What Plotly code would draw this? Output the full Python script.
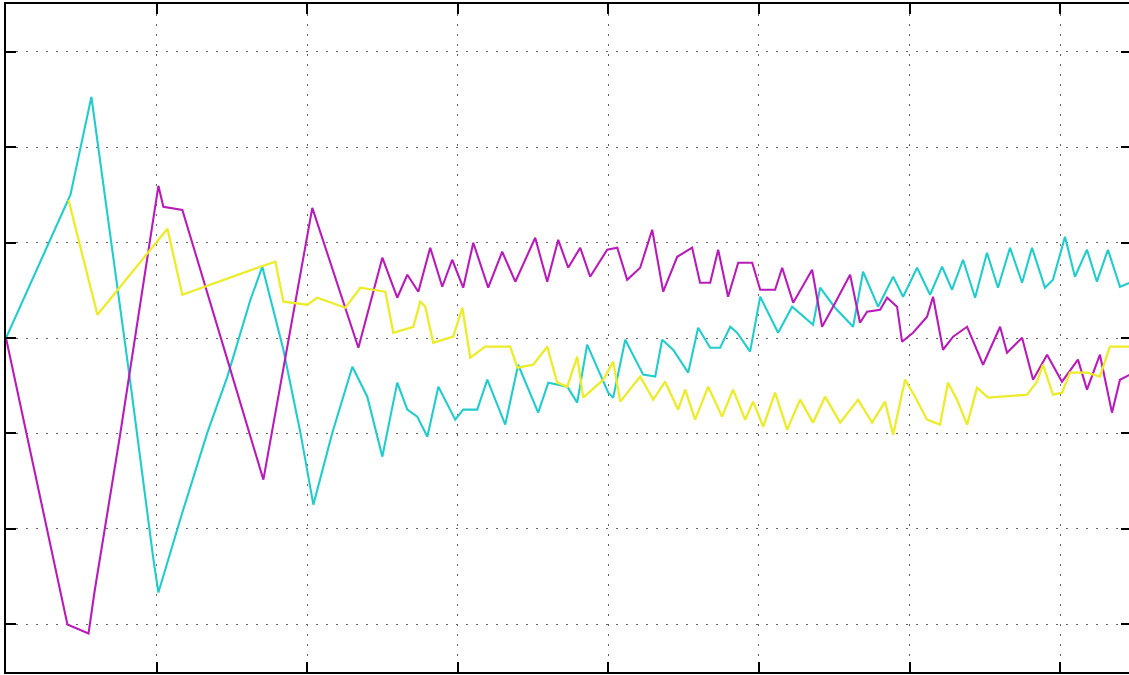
import plotly.graph_objects as go

# Time axis: one grid division = 1 unit; amplitude: one grid division = 1 unit
mag_t = [0.0, 0.408, 0.548, 0.587, 0.760, 0.893, 1.012, 1.045, 1.171, 1.470, 1.709, 2.034, 2.340,
         2.499, 2.598, 2.665, 2.738, 2.817, 2.897, 2.963, 3.036, 3.103, 3.202, 3.295, 3.382, 3.514,
         3.594, 3.667, 3.733, 3.813, 3.879, 3.992, 4.059, 4.125, 4.211, 4.291, 4.364, 4.457, 4.556,
         4.609, 4.676, 4.729, 4.795, 4.862, 4.955, 5.008, 5.107, 5.154, 5.227, 5.353, 5.419, 5.492,
         5.605, 5.671, 5.718, 5.804, 5.851, 5.917, 5.950, 6.023, 6.116, 6.156, 6.222, 6.289, 6.382,
         6.488, 6.601, 6.647, 6.747, 6.820, 6.913, 7.012, 7.118, 7.178, 7.264, 7.344, 7.397, 7.463]
mag_y = [0.0, -3.002, -3.096, -2.667, -0.992, 0.401, 1.595, 1.375, 1.343, -0.227, -1.484, 1.364, -0.102,
         0.841, 0.422, 0.663, 0.485, 0.946, 0.537, 0.820, 0.527, 0.998, 0.527, 0.904, 0.590, 1.050,
         0.590, 1.029, 0.736, 0.946, 0.642, 0.925, 0.946, 0.610, 0.736, 1.134, 0.485, 0.851, 0.946,
         0.579, 0.579, 0.925, 0.432, 0.788, 0.788, 0.506, 0.506, 0.736, 0.370, 0.715, 0.118, 0.328,
         0.663, 0.160, 0.275, 0.296, 0.422, 0.328, -0.039, 0.055, 0.223, 0.432, -0.123, 0.014, 0.118,
         -0.280, 0.118, -0.154, 0.003, -0.437, -0.175, -0.458, -0.227, -0.541, -0.175, -0.782, -0.437, -0.384]

cyan_t = [0.0, 0.428, 0.567, 0.806, 0.826, 0.979, 1.012, 1.171, 1.337, 1.470, 1.623, 1.702, 1.842,
          1.955, 2.041, 2.167, 2.300, 2.399, 2.499, 2.598, 2.665, 2.731, 2.798, 2.871, 2.983, 3.036,
          3.129, 3.196, 3.315, 3.401, 3.534, 3.601, 3.727, 3.793, 3.859, 3.999, 4.032, 4.112, 4.231,
          4.311, 4.357, 4.430, 4.530, 4.596, 4.676, 4.742, 4.809, 4.855, 4.941, 5.008, 5.127, 5.220,
          5.359, 5.406, 5.505, 5.625, 5.691, 5.791, 5.891, 5.957, 6.050, 6.136, 6.216, 6.282, 6.355,
          6.435, 6.514, 6.587, 6.667, 6.747, 6.813, 6.899, 6.952, 7.032, 7.098, 7.178, 7.244, 7.317,
          7.397, 7.463]
cyan_y = [0.0, 1.501, 2.527, -0.227, -0.468, -2.321, -2.667, -1.829, -0.992, -0.405, 0.401, 0.747, -0.123,
          -0.992, -1.746, -0.992, -0.301, -0.615, -1.243, -0.468, -0.751, -0.824, -1.034, -0.510, -0.856, -0.751,
          -0.751, -0.437, -0.908, -0.280, -0.782, -0.468, -0.510, -0.677, -0.070, -0.573, -0.625, -0.018, -0.384,
          -0.405, -0.018, -0.123, -0.363, 0.108, -0.102, -0.102, 0.118, 0.055, -0.143, 0.432, 0.055, 0.328,
          0.139, 0.527, 0.317, 0.118, 0.694, 0.328, 0.642, 0.432, 0.736, 0.453, 0.747, 0.506, 0.820,
          0.422, 0.893, 0.527, 0.946, 0.579, 0.946, 0.527, 0.610, 1.061, 0.642, 0.925, 0.590, 0.925,
          0.537, 0.579]

yel_t = [0.415, 0.607, 1.072, 1.171, 1.669, 1.789, 1.842, 2.001, 2.067, 2.253, 2.353, 2.519, 2.572,
         2.705, 2.751, 2.784, 2.837, 2.970, 3.030, 3.083, 3.182, 3.348, 3.395, 3.501, 3.594, 3.660,
         3.727, 3.793, 3.833, 3.966, 4.032, 4.079, 4.211, 4.298, 4.377, 4.463, 4.510, 4.576, 4.663,
         4.755, 4.828, 4.908, 4.961, 5.028, 5.107, 5.187, 5.273, 5.359, 5.439, 5.539, 5.658, 5.751,
         5.837, 5.891, 5.970, 6.036, 6.116, 6.202, 6.255, 6.315, 6.382, 6.448, 6.521, 6.780, 6.846,
         6.886, 6.952, 7.012, 7.065, 7.178, 7.264, 7.330, 7.463]
yel_y = [1.448, 0.244, 1.145, 0.453, 0.736, 0.799, 0.380, 0.349, 0.422, 0.317, 0.527, 0.485, 0.055,
         0.118, 0.380, 0.328, -0.049, 0.014, 0.317, -0.206, -0.091, -0.091, -0.311, -0.280, -0.091, -0.468,
         -0.510, -0.196, -0.625, -0.437, -0.248, -0.667, -0.405, -0.646, -0.458, -0.751, -0.541, -0.856, -0.510,
         -0.824, -0.541, -0.856, -0.667, -0.929, -0.573, -0.960, -0.646, -0.887, -0.615, -0.887, -0.646, -0.887,
         -0.667, -1.013, -0.437, -0.615, -0.856, -0.908, -0.468, -0.646, -0.908, -0.520, -0.625, -0.594, -0.458,
         -0.280, -0.594, -0.573, -0.363, -0.363, -0.405, -0.091, -0.091]

X_RANGE = [0, 7.457]
Y_RANGE = [-3.5, 3.5]

fig = go.Figure()
fig.add_trace(go.Scatter(x=yel_t, y=yel_y, mode="lines", line=dict(color="#ecec2a", width=2.3),
                         showlegend=False, yaxis="y2"))
fig.add_trace(go.Scatter(x=cyan_t, y=cyan_y, mode="lines", line=dict(color="#22cccc", width=2.1),
                         showlegend=False))
fig.add_trace(go.Scatter(x=mag_t, y=mag_y, mode="lines", line=dict(color="#b81cb8", width=2.1),
                         showlegend=False))

grid_style = dict(showgrid=True, gridcolor="#666666", gridwidth=1, griddash="2px,8px")

fig.update_layout(
    width=1129, height=675,
    margin=dict(l=6, r=0, t=4, b=3),
    paper_bgcolor="white", plot_bgcolor="white",
    xaxis=dict(range=X_RANGE, dtick=1, tick0=0, zeroline=False, showline=True, linecolor="black",
               linewidth=2, mirror="ticks", ticks="inside", ticklen=10, tickwidth=2, tickcolor="black",
               showticklabels=False, **grid_style),
    yaxis=dict(range=Y_RANGE, dtick=1, tick0=0, zeroline=False, showline=True, linecolor="black",
               linewidth=2, ticks="inside", ticklen=10, tickwidth=2, tickcolor="black",
               showticklabels=False, **grid_style),
    yaxis2=dict(range=Y_RANGE, dtick=1, tick0=0, overlaying="y", side="right", showgrid=False,
                zeroline=False, showline=False, ticks="inside", ticklen=8, tickwidth=2,
                tickcolor="black", showticklabels=False),
)

fig.write_html("out.html", config={"displayModeBar": False},
               post_script="document.body.style.margin='0';document.body.style.overflow='hidden';")
